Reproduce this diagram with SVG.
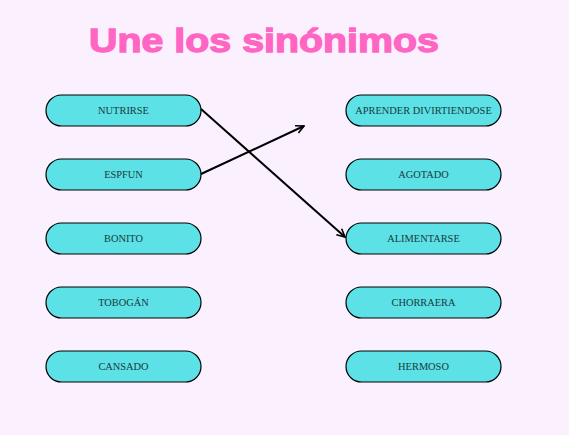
<svg xmlns="http://www.w3.org/2000/svg" width="569" height="435" viewBox="0 0 569 435">
<style>
.box{fill:#5ce1e6;stroke:#000;stroke-width:1.2}
.lbl{font-family:"Liberation Serif",serif;font-size:10.4px;fill:#1a3a3a;text-anchor:middle;dominant-baseline:central}
.conn{stroke:#000;stroke-width:2;fill:none;marker-end:url(#arr)}
</style>
<defs>
<marker id="arr" viewBox="0 0 10 10" refX="9" refY="5" markerWidth="5" markerHeight="5" orient="auto" markerUnits="strokeWidth">
<path d="M1,1 L9,5 L1,9" fill="none" stroke="#000" stroke-width="1.6"/>
</marker>
</defs>
<rect width="569" height="435" fill="#fbf0fd"/>
<text x="89" y="52" textLength="350" lengthAdjust="spacingAndGlyphs" font-family="Liberation Sans,Arial,sans-serif" font-weight="bold" font-size="34" fill="#ff66c4" stroke="#ff66c4" stroke-width="1.3">Une los sinónimos</text>
<g id="n1"><rect class="box" x="46" y="95" width="155" height="31" rx="15.5"/><text class="lbl" x="123.5" y="110.5">NUTRIRSE</text></g>
<g id="n2"><rect class="box" x="46" y="159" width="155" height="31" rx="15.5"/><text class="lbl" x="123.5" y="174.5">ESPFUN</text></g>
<g id="n3"><rect class="box" x="46" y="223" width="155" height="31" rx="15.5"/><text class="lbl" x="123.5" y="238.5">BONITO</text></g>
<g id="n4"><rect class="box" x="46" y="287" width="155" height="31" rx="15.5"/><text class="lbl" x="123.5" y="302.5">TOBOGÁN</text></g>
<g id="n5"><rect class="box" x="46" y="351" width="155" height="31" rx="15.5"/><text class="lbl" x="123.5" y="366.5">CANSADO</text></g>
<g id="m1"><rect class="box" x="346" y="95" width="155" height="31" rx="15.5"/><text class="lbl" x="423.5" y="110.5">APRENDER DIVIRTIENDOSE</text></g>
<g id="m2"><rect class="box" x="346" y="159" width="155" height="31" rx="15.5"/><text class="lbl" x="423.5" y="174.5">AGOTADO</text></g>
<g id="m3"><rect class="box" x="346" y="223" width="155" height="31" rx="15.5"/><text class="lbl" x="423.5" y="238.5">ALIMENTARSE</text></g>
<g id="m4"><rect class="box" x="346" y="287" width="155" height="31" rx="15.5"/><text class="lbl" x="423.5" y="302.5">CHORRAERA</text></g>
<g id="m5"><rect class="box" x="346" y="351" width="155" height="31" rx="15.5"/><text class="lbl" x="423.5" y="366.5">HERMOSO</text></g>
<g id="connectors">
<line class="conn" x1="201" y1="109" x2="345" y2="237"/>
<line class="conn" x1="201" y1="174" x2="304" y2="126"/>
</g>
</svg>
